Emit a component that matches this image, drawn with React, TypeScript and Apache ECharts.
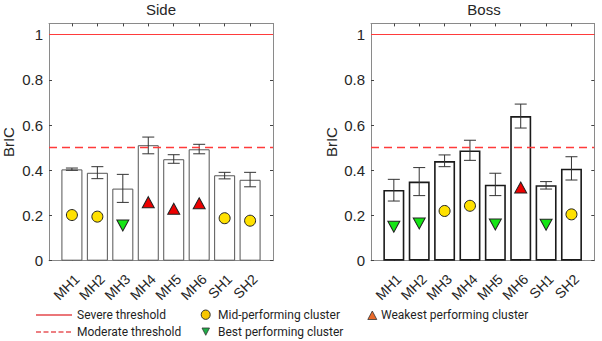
import React, { useEffect, useRef } from "react";
import * as echarts from "echarts";

// Sensor locations on the x axis
const categories = ["MH1", "MH2", "MH3", "MH4", "MH5", "MH6", "SH1", "SH2"];

// Side impact: mean BrIC with error range, cluster value and cluster group
const sideMean = [0.404, 0.389, 0.319, 0.511, 0.449, 0.493, 0.378, 0.358];
const sideLow = [0.4, 0.363, 0.258, 0.473, 0.431, 0.473, 0.362, 0.327];
const sideHigh = [0.41, 0.416, 0.382, 0.547, 0.469, 0.515, 0.391, 0.391];
const sideCluster = [0.202, 0.195, 0.156, 0.259, 0.23, 0.254, 0.188, 0.177];
const sideGroup = ["mid", "mid", "best", "weak", "weak", "weak", "mid", "mid"];

// Boss impact
const bossMean = [0.313, 0.35, 0.441, 0.488, 0.336, 0.64, 0.334, 0.407];
const bossLow = [0.264, 0.288, 0.416, 0.444, 0.288, 0.587, 0.317, 0.357];
const bossHigh = [0.36, 0.412, 0.468, 0.533, 0.387, 0.693, 0.35, 0.46];
const bossCluster = [0.15, 0.165, 0.22, 0.243, 0.16, 0.324, 0.159, 0.205];
const bossGroup = ["best", "best", "mid", "mid", "best", "weak", "best", "mid"];

// Threshold levels
const severeThreshold = 1;
const moderateThreshold = 0.5;

const yTicks = [0, 0.2, 0.4, 0.6, 0.8, 1];
const xPositions = categories.map((_, i) => i + 1);

const FONT = "Liberation Sans";
const LEGEND_FONT = "Roboto";
const BOX = "#8a8a8a";
const INK = "#262626";
const THRESH = "#ff3b3b";

const groupStyle: Record<string, { color: string; symbol: string; rotate: number; size: any }> = {
  mid: { color: "#ffe100", symbol: "circle", rotate: 0, size: 11 },
  best: { color: "#14e614", symbol: "triangle", rotate: 180, size: [12, 11] },
  weak: { color: "#ee0000", symbol: "triangle", rotate: 0, size: [12, 11] },
};

function xAxes(gi: number) {
  const base = {
    type: "value",
    gridIndex: gi,
    min: 0.1,
    max: 8.9,
    splitLine: { show: false },
    axisLine: { show: true, onZero: false, lineStyle: { color: BOX, width: 1 } },
    axisTick: { show: true, inside: true, length: 3, customValues: xPositions, lineStyle: { color: "#444" } },
  };
  return [
    {
      ...base,
      position: "bottom",
      axisLabel: {
        show: true,
        customValues: xPositions,
        rotate: 45,
        margin: 11,
        verticalAlign: "top",
        fontSize: 14,
        fontFamily: FONT,
        color: INK,
        formatter: (v: number) => categories[Math.round(v) - 1] ?? "",
      },
    },
    { ...base, position: "top", axisLabel: { show: false } },
  ];
}

function yAxes(gi: number) {
  const base = {
    type: "value",
    gridIndex: gi,
    min: 0,
    max: 1.05,
    interval: 0.2,
    splitLine: { show: false },
    axisLine: { show: true, onZero: false, lineStyle: { color: BOX, width: 1 } },
    axisTick: { show: true, inside: true, length: 3, customValues: yTicks, lineStyle: { color: "#444" } },
  };
  return [
    {
      ...base,
      position: "left",
      name: "BrIC",
      nameLocation: "middle",
      nameRotate: 90,
      nameGap: gi === 0 ? 33 : 32,
      nameTextStyle: { fontSize: 15, fontFamily: FONT, color: INK },
      axisLabel: {
        show: true,
        customValues: yTicks,
        margin: 6,
        fontSize: 15,
        fontFamily: FONT,
        color: INK,
        formatter: (v: number) => String(Math.round(v * 10) / 10),
      },
    },
    { ...base, position: "right", axisLabel: { show: false } },
  ];
}

function panelSeries(
  gi: number,
  mean: number[],
  low: number[],
  high: number[],
  cluster: number[],
  group: string[],
  edge: string,
  edgeWidth: number
) {
  const ax = { xAxisIndex: gi * 2, yAxisIndex: gi * 2 };
  const series: any[] = [];

  // threshold lines sit underneath the bars
  series.push({
    type: "line",
    ...ax,
    data: [],
    z: 1,
    color: THRESH,
    markLine: {
      silent: true,
      symbol: "none",
      label: { show: false },
      lineStyle: { color: THRESH, width: 1.3, opacity: 1 },
      data: [
        { yAxis: severeThreshold, lineStyle: { color: THRESH, width: 1.2, type: "solid" } },
        { yAxis: moderateThreshold, lineStyle: { color: THRESH, width: 1.4, type: [8, 5] } },
      ],
    },
  });

  series.push({
    type: "bar",
    ...ax,
    z: 2,
    barWidth: 21,
    data: mean.map((v, i) => [i + 1, v]),
    itemStyle: { color: "#ffffff", borderColor: edge, borderWidth: edgeWidth },
  });

  series.push({
    type: "custom",
    ...ax,
    z: 3,
    encode: { x: 0, y: [1, 2] },
    data: low.map((v, i) => [i + 1, v, high[i]]),
    renderItem: (_p: any, api: any) => {
      const x = api.value(0);
      const a = api.coord([x, api.value(1)]);
      const b = api.coord([x, api.value(2)]);
      const hw = 6;
      const style = { stroke: "#333333", lineWidth: 1 };
      return {
        type: "group",
        children: [
          { type: "line", shape: { x1: a[0], y1: a[1], x2: b[0], y2: b[1] }, style },
          { type: "line", shape: { x1: a[0] - hw, y1: a[1], x2: a[0] + hw, y2: a[1] }, style },
          { type: "line", shape: { x1: b[0] - hw, y1: b[1], x2: b[0] + hw, y2: b[1] }, style },
        ],
      };
    },
  });

  (["mid", "best", "weak"] as const).forEach((g) => {
    const s = groupStyle[g];
    series.push({
      type: "scatter",
      ...ax,
      z: 4,
      symbol: s.symbol,
      symbolRotate: s.rotate,
      symbolSize: s.size,
      itemStyle: { color: s.color, borderColor: "#222222", borderWidth: 1, opacity: 1 },
      data: cluster.map((v, i) => (group[i] === g ? [i + 1, v] : null)).filter((d) => d !== null),
    });
  });

  return series;
}

function legendGraphics() {
  const ty = 315;
  const by = 332;
  const text = (x: number, y: number, t: string) => ({
    type: "text",
    x,
    y,
    style: { text: t, fontSize: 12, fontFamily: LEGEND_FONT, fill: "#1f1f1f", verticalAlign: "middle", align: "left" },
  });
  const dashes = [0, 1, 2, 3, 4].map((k) => ({
    type: "line",
    shape: { x1: 36 + k * 7.5, y1: by, x2: 36 + k * 7.5 + 5, y2: by },
    style: { stroke: "#e5484d", lineWidth: 1.4 },
  }));
  return [
    { type: "line", shape: { x1: 36, y1: ty, x2: 72, y2: ty }, style: { stroke: "#e5484d", lineWidth: 1.4 } },
    text(77, ty, "Severe threshold"),
    ...dashes,
    text(77, by, "Moderate threshold"),
    {
      type: "ellipse",
      shape: { cx: 205.7, cy: 314.7, rx: 4.5, ry: 4.7 },
      style: { fill: "#f7c600", stroke: "#333", lineWidth: 1 },
    },
    text(218, ty, "Mid-performing cluster"),
    {
      type: "polygon",
      shape: { points: [[202, 328], [209.5, 328], [205.75, 335.3]] },
      style: { fill: "#1fae48", stroke: "#333", lineWidth: 0.8 },
    },
    text(218, by, "Best performing cluster"),
    {
      type: "polygon",
      shape: { points: [[367.8, 319.5], [376.8, 319.5], [372.3, 311]] },
      style: { fill: "#ea6a2a", stroke: "#333", lineWidth: 0.8 },
    },
    text(381, ty, "Weakest performing cluster"),
  ];
}

export default function App() {
  const ref = useRef<HTMLDivElement>(null);

  useEffect(() => {
    if (!ref.current) return;
    const chart = echarts.init(ref.current, undefined, { renderer: "svg" });
    const grids = [
      { left: 49, top: 23.4, width: 224, height: 237.3 },
      { left: 371, top: 23.4, width: 223.3, height: 237.3 },
    ];
    chart.setOption({
      animation: false,
      backgroundColor: "#ffffff",
      grid: grids.map((g) => ({ ...g, show: false })),
      xAxis: [...xAxes(0), ...xAxes(1)],
      yAxis: [...yAxes(0), ...yAxes(1)],
      series: [
        ...panelSeries(0, sideMean, sideLow, sideHigh, sideCluster, sideGroup, "#555555", 1),
        ...panelSeries(1, bossMean, bossLow, bossHigh, bossCluster, bossGroup, "#1a1a1a", 1.6),
      ],
      graphic: [
        {
          type: "text",
          x: 161,
          y: 9,
          style: { text: "Side", fontSize: 15, fontFamily: FONT, fill: INK, align: "center", verticalAlign: "middle" },
        },
        {
          type: "text",
          x: 484,
          y: 9,
          style: { text: "Boss", fontSize: 15, fontFamily: FONT, fill: INK, align: "center", verticalAlign: "middle" },
        },
        ...legendGraphics(),
      ],
    });
    return () => chart.dispose();
  }, []);

  return (
    <div
      ref={ref}
      style={{ position: "absolute", left: 0, top: 0, width: 602, height: 341, background: "#fff" }}
    />
  );
}
